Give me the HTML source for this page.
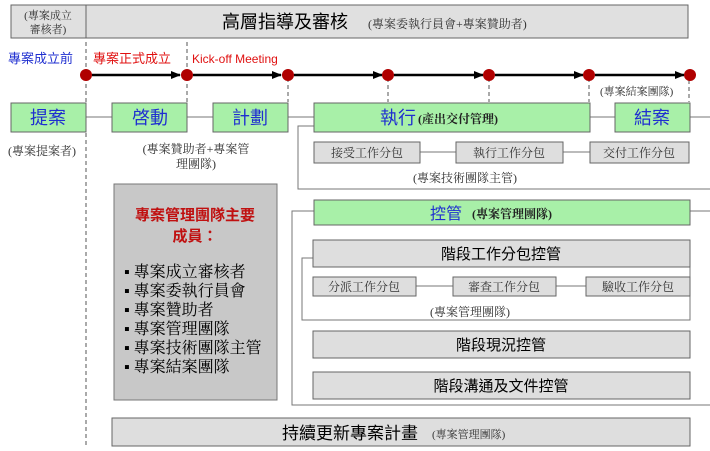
<!DOCTYPE html>
<html><head><meta charset="utf-8"><style>body{margin:0;background:#fff}svg{display:block;font-family:"Liberation Serif","Noto Serif CJK SC","Noto Sans CJK TC",serif}</style></head><body>
<svg width="710" height="451" viewBox="0 0 710 451" xmlns="http://www.w3.org/2000/svg">
<defs><marker id="a" markerWidth="10" markerHeight="8" refX="9" refY="4" orient="auto" markerUnits="userSpaceOnUse"><path d="M0,0 L10,4 L0,8z" fill="#000"/></marker></defs>
<rect x="11" y="5" width="677" height="33" fill="#e0e0e0" stroke="#666"/>
<line x1="86" y1="5" x2="86" y2="38" stroke="#666"/>
<text x="48" y="19" font-size="11" text-anchor="middle" fill="#333">(專案成立</text>
<text x="48" y="33" font-size="11" text-anchor="middle" fill="#333">審核者)</text>
<text x="222" y="28" font-size="18" fill="#000" font-family="Liberation Sans,Noto Sans CJK TC,sans-serif">高層指導及審核</text>
<text x="368" y="28" font-size="12" fill="#333">(專案委執行員會+專案贊助者)</text>
<text x="8" y="63" font-size="13" fill="#1f2fd0" font-family="Liberation Sans,Noto Sans CJK TC,sans-serif">專案成立前</text>
<text x="93" y="63" font-size="13" fill="#e01010" font-family="Liberation Sans,Noto Sans CJK TC,sans-serif">專案正式成立</text>
<text x="192" y="63" font-size="12" fill="#e01010" font-family="Liberation Sans,sans-serif">Kick-off Meeting</text>
<g stroke="#555" stroke-dasharray="4,3" stroke-width="1">
<line x1="86" y1="42" x2="86" y2="446"/>
<line x1="187" y1="42" x2="187" y2="102"/>
<line x1="288" y1="78" x2="288" y2="102"/>
<line x1="388" y1="78" x2="388" y2="102"/>
<line x1="489" y1="78" x2="489" y2="102"/>
<line x1="589" y1="78" x2="589" y2="102"/>
<line x1="689" y1="80" x2="689" y2="102"/>
</g>
<g stroke="#000" stroke-width="2.5" marker-end="url(#a)">
<line x1="92" y1="75" x2="180" y2="75"/>
<line x1="193" y1="75" x2="281" y2="75"/>
<line x1="294" y1="75" x2="382" y2="75"/>
<line x1="394" y1="75" x2="483" y2="75"/>
<line x1="495" y1="75" x2="583" y2="75"/>
<line x1="595" y1="75" x2="684" y2="75"/>
</g>
<g fill="#b00000"><circle cx="86" cy="75" r="6"/><circle cx="187" cy="75" r="6"/><circle cx="288" cy="75" r="6"/><circle cx="388" cy="75" r="6"/><circle cx="489" cy="75" r="6"/><circle cx="589" cy="75" r="6"/><circle cx="690" cy="75" r="6"/></g>
<text x="600" y="95" font-size="11" fill="#333">(專案結案團隊)</text>
<g stroke="#777" fill="none">
<line x1="86" y1="117" x2="710" y2="117"/>
<polyline points="314,126 298,126 298,189 710,189"/>
<line x1="420" y1="152" x2="590" y2="152"/>
<polyline points="314,211 292,211 292,405 710,405"/>
<line x1="690" y1="211" x2="710" y2="211"/>
<polyline points="313,258 302,258 302,320 690,320 690,258"/>
<line x1="416" y1="286" x2="586" y2="286"/>
</g>
<g fill="#a8f0a8" stroke="#666">
<rect x="11" y="103" width="75" height="29"/>
<rect x="112" y="103" width="75" height="29"/>
<rect x="213" y="103" width="75" height="29"/>
<rect x="314" y="103" width="276" height="29"/>
<rect x="615" y="103" width="75" height="29"/>
<rect x="314" y="200" width="376" height="25"/>
</g>
<g font-size="18" fill="#1f2fd0" text-anchor="middle" font-family="Liberation Sans,Noto Sans CJK TC,sans-serif">
<text x="48" y="124">提案</text><text x="150" y="124">啓動</text><text x="250" y="124">計劃</text><text x="652" y="124">結案</text>
</g>
<text x="380" y="124" font-size="18" fill="#1f2fd0" font-family="Liberation Sans,Noto Sans CJK TC,sans-serif">執行</text>
<text x="418" y="123" font-size="12" fill="#222" font-weight="bold">(產出交付管理)</text>
<text x="430" y="219" font-size="16" fill="#1f2fd0" font-family="Liberation Sans,Noto Sans CJK TC,sans-serif">控管</text>
<text x="472" y="218" font-size="12" fill="#222" font-weight="bold">(專案管理團隊)</text>
<g fill="#dedede" stroke="#666">
<rect x="314" y="142" width="106" height="21"/>
<rect x="456" y="142" width="107" height="21"/>
<rect x="590" y="142" width="99" height="21"/>
<rect x="313" y="240" width="377" height="27"/>
<rect x="313" y="277" width="103" height="19"/>
<rect x="453" y="277" width="103" height="19"/>
<rect x="586" y="277" width="104" height="19"/>
<rect x="313" y="331" width="377" height="27"/>
<rect x="313" y="372" width="377" height="27"/>
<rect x="112" y="418" width="578" height="28"/>
</g>
<rect x="114" y="184" width="163" height="216" fill="#c8c8c8" stroke="#777"/>
<g font-size="12" fill="#333" text-anchor="middle">
<text x="367" y="157">接受工作分包</text><text x="509" y="157">執行工作分包</text><text x="639" y="157">交付工作分包</text>
<text x="364" y="291">分派工作分包</text><text x="504" y="291">審查工作分包</text><text x="638" y="291">驗收工作分包</text>
<text x="465" y="182">(專案技術團隊主管)</text>
<text x="470" y="316">(專案管理團隊)</text>
<text x="42" y="155">(專案提案者)</text>
<text x="196" y="153">(專案贊助者+專案管</text>
<text x="196" y="168">理團隊)</text>
</g>
<g font-size="15" fill="#000" text-anchor="middle" font-family="Liberation Sans,Noto Sans CJK TC,sans-serif">
<text x="501" y="259">階段工作分包控管</text>
<text x="501" y="350">階段現況控管</text>
<text x="501" y="391">階段溝通及文件控管</text>
</g>
<text x="282" y="439" font-size="17" fill="#000" font-family="Liberation Sans,Noto Sans CJK TC,sans-serif">持續更新專案計畫</text>
<text x="432" y="438" font-size="11" fill="#333">(專案管理團隊)</text>
<g font-size="15" fill="#c01010" font-weight="bold" text-anchor="middle" font-family="Liberation Sans,Noto Sans CJK TC,sans-serif">
<text x="195" y="220">專案管理團隊主要</text><text x="195" y="241">成員：</text>
</g>
<g font-size="16" fill="#000">
<text x="124" y="277">▪ 專案成立審核者</text>
<text x="124" y="296">▪ 專案委執行員會</text>
<text x="124" y="315">▪ 專案贊助者</text>
<text x="124" y="334">▪ 專案管理團隊</text>
<text x="124" y="353">▪ 專案技術團隊主管</text>
<text x="124" y="372">▪ 專案結案團隊</text>
</g>
</svg>
</body></html>
